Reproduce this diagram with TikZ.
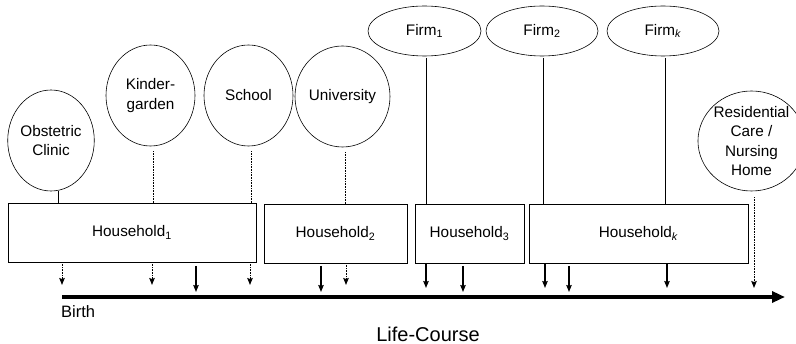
\documentclass[tikz,border=0pt]{standalone}
\usepackage{fontspec}
\setmainfont{Liberation Sans}
\usetikzlibrary{arrows.meta,shapes.geometric}
\tikzset{
  inst/.style={draw, ellipse, inner sep=0pt, align=center, line width=0.6pt, font=\fontsize{15.3}{19.5}\selectfont},
  hh/.style={draw, rectangle, inner sep=0pt, line width=0.6pt, font=\fontsize{15.3}{19.5}\selectfont},
  link/.style={line width=0.8pt},
  dotlink/.style={line width=1pt, dash pattern=on 1pt off 0.6pt},
  solarrow/.style={line width=1.2pt, -{Stealth[length=7pt,width=5.5pt,inset=1pt]}},
  dotarrow/.style={line width=1pt, dash pattern=on 1pt off 0.6pt, -{Stealth[length=7pt,width=5.5pt,inset=1pt]}},
  axisline/.style={line width=3.5pt, -{Triangle[length=13pt,width=11pt]}},
  lbl/.style={inner sep=0pt, font=\fontsize{16.5}{19}\selectfont}
}
\begin{document}
\begin{tikzpicture}[x=1pt,y=-1pt]
\useasboundingbox (0,0) rectangle (796,344);
% institutions
\node[inst, minimum width=86pt, minimum height=101pt] (obs) at (51,140.5) {Obstetric\\Clinic};
\node[inst, minimum width=89pt, minimum height=101pt] (kin) at (150.5,95.5) {Kinder-\\garden};
\node[inst, minimum width=89pt, minimum height=101pt] (sch) at (248.5,95.5) {School};
\node[inst, minimum width=89pt, minimum height=101pt] (uni) at (342.5,96.5) {University};
\node[inst, minimum width=113pt, minimum height=50pt] (f1) at (424.5,31) {Firm\textsubscript{1}};
\node[inst, minimum width=112pt, minimum height=50pt] (f2) at (542,31) {Firm\textsubscript{2}};
\node[inst, minimum width=112pt, minimum height=50pt] (fk) at (663,31) {Firm\textsubscript{\textit{k}}};
\node[inst, minimum width=87pt, minimum height=100pt] (res) at (751.5,141) {Residential\\Care /\\Nursing\\Home};
% households
\node[hh, minimum width=248pt, minimum height=59pt] (h1) at (132,232.5) {Household\textsubscript{1}};
\node[hh, minimum width=143pt, minimum height=59pt] (h2) at (335.5,233.5) {Household\textsubscript{2}};
\node[hh, minimum width=109pt, minimum height=59pt] (h3) at (469.5,233.5) {Household\textsubscript{3}};
\node[hh, minimum width=219pt, minimum height=59pt] (hk) at (638.5,233.5) {Household\textsubscript{\textit{k}}};
% links institution -> household
\draw[link] ([xshift=7pt]obs.south) -- ([xshift=7pt]obs.south |- h1.north);
\draw[dotlink] ([xshift=2.5pt,yshift=-5pt]kin.south) -- ([xshift=2.5pt]kin.south |- h1.north);
\draw[dotlink] ([xshift=2.5pt,yshift=-5pt]sch.south) -- ([xshift=2.5pt]sch.south |- h1.north);
\draw[dotlink] ([xshift=2.5pt,yshift=-5pt]uni.south) -- ([xshift=2.5pt]uni.south |- h2.north);
\draw[link] ([xshift=1.5pt,yshift=-2pt]f1.south) -- ([xshift=1.5pt]f1.south |- h3.north);
\draw[link] ([xshift=1pt,yshift=-2pt]f2.south) -- ([xshift=1pt]f2.south |- hk.north);
\draw[link] ([xshift=2pt,yshift=-2pt]fk.south) -- ([xshift=2pt]fk.south |- hk.north);
% arrow ends
\coordinate (a1) at (62,285);
\coordinate (a2) at (152,285);
\coordinate (a3) at (250,285);
\coordinate (a4) at (346,285);
\coordinate (a5) at (426,288);
\coordinate (a6) at (545,288);
\coordinate (a7) at (667,288);
\coordinate (a8) at (754,288);
\coordinate (s1a) at (196,266); \coordinate (s1b) at (196,292);
\coordinate (s2a) at (321,266); \coordinate (s2b) at (321,292);
\coordinate (s3a) at (463,266); \coordinate (s3b) at (463,292);
\coordinate (s4a) at (569,266); \coordinate (s4b) at (569,292);
% arrows from households
\draw[dotarrow] (h1.south -| a1) -- (a1);
\draw[dotarrow] (h1.south -| a2) -- (a2);
\draw[dotarrow] (h1.south -| a3) -- (a3);
\draw[dotarrow] (h2.south -| a4) -- (a4);
\draw[solarrow] (h3.south -| a5) -- (a5);
\draw[solarrow] (hk.south -| a6) -- (a6);
\draw[solarrow] (hk.south -| a7) -- (a7);
\draw[dotarrow] ([yshift=-6pt]res.south -| a8) -- (a8);
% free events
\draw[solarrow] (s1a) -- (s1b);
\draw[solarrow] (s2a) -- (s2b);
\draw[solarrow] (s3a) -- (s3b);
\draw[solarrow] (s4a) -- (s4b);
% axis
\coordinate (ax0) at (62,297);
\coordinate (ax1) at (785,297);
\draw[axisline] (ax0) -- (ax1);
\node[lbl, anchor=west] (birth) at (61,312) {Birth};
\node[lbl, font=\fontsize{20}{23}\selectfont] (lc) at (428,334) {Life-Course};
\end{tikzpicture}
\end{document}
